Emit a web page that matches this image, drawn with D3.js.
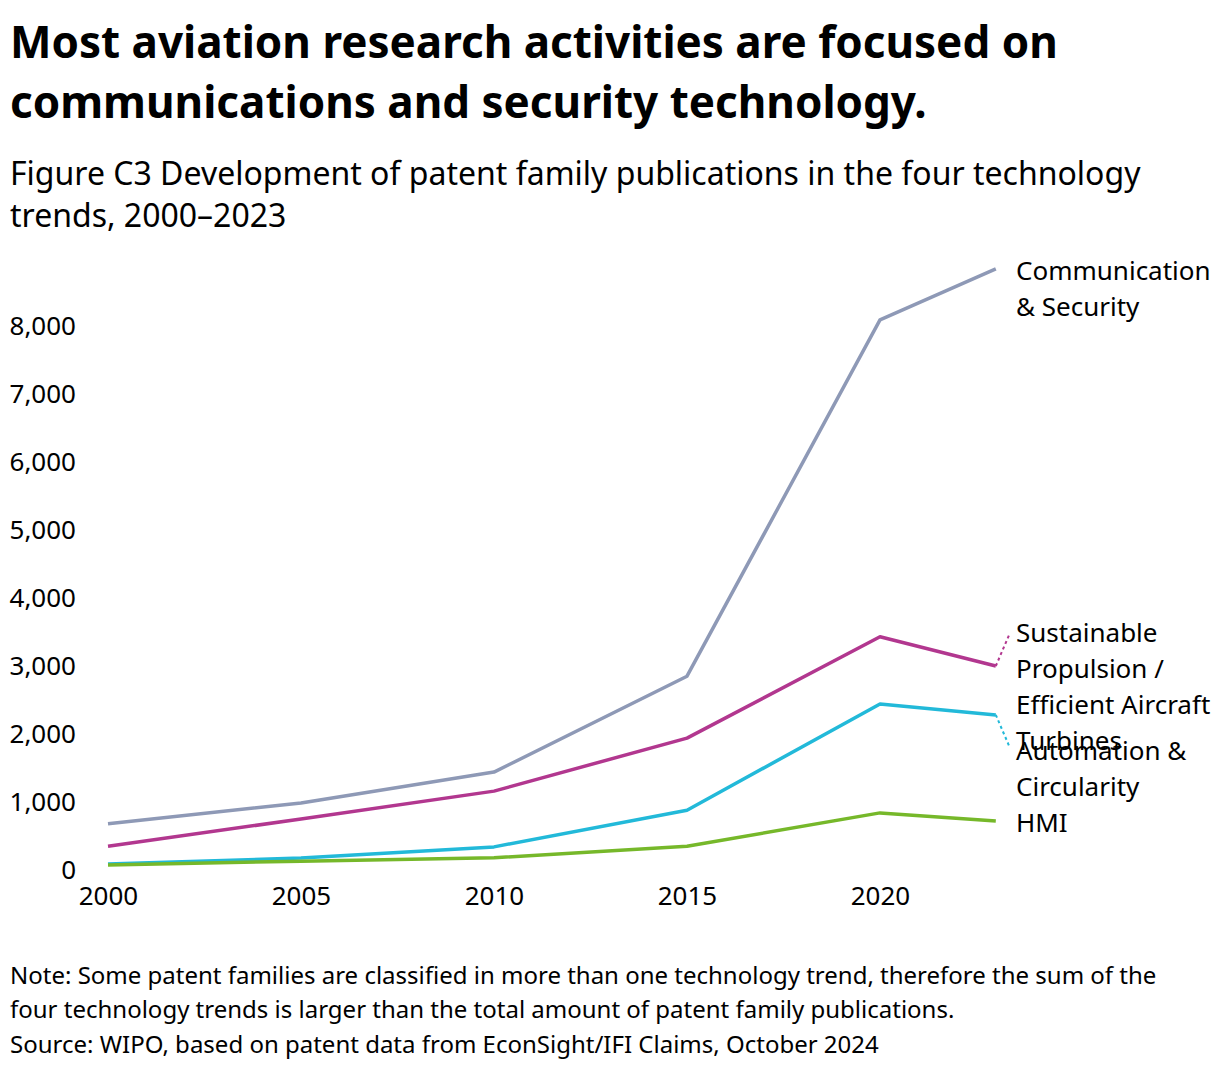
<!DOCTYPE html>
<html>
<head>
<meta charset="utf-8">
<script src="https://d3js.org/d3.v7.min.js"></script>
<style>
  body { margin: 0; background: #fff; font-family: "Noto Sans", sans-serif; }
</style>
</head>
<body>
<div id="chart"></div>
<script>
// data
var years = [2000, 2005, 2010, 2015, 2020, 2023];
var commSecurity = [680, 985, 1440, 2850, 8090, 8840];
var sustainable  = [350, 750, 1160, 1940, 3430, 3000];
var automation   = [90, 175, 340, 880, 2440, 2280];
var hmi          = [75, 130, 180, 350, 840, 720];
var seriesNames = ["Communication\n& Security", "Sustainable\nPropulsion /\nEfficient Aircraft\nTurbines", "Automation &\nCircularity", "HMI"];
var xTicks = [2000, 2005, 2010, 2015, 2020];
var yTicks = [0, 1000, 2000, 3000, 4000, 5000, 6000, 7000, 8000];

var colors = ["#8e99b6", "#b2378f", "#22b9d9", "#76b82a"];
var allSeries = [commSecurity, sustainable, automation, hmi];

var W = 1220, H = 1070;
var svg = d3.select("#chart").append("svg")
    .attr("width", W).attr("height", H)
    .style("font-family", "'Noto Sans', sans-serif");

// title + subtitle
var title = svg.append("text").attr("x", 10).attr("font-size", 44).attr("font-weight", "bold").attr("fill", "#000");
title.append("tspan").attr("x", 10).attr("y", 58).text("Most aviation research activities are focused on");
title.append("tspan").attr("x", 10).attr("y", 118).text("communications and security technology.");

var sub = svg.append("text").attr("font-size", 32).attr("fill", "#000");
sub.append("tspan").attr("x", 10).attr("y", 185).text("Figure C3 Development of patent family publications in the four technology");
sub.append("tspan").attr("x", 10).attr("y", 227).text("trends, 2000\u20132023");

// scales
var x = d3.scaleLinear().domain([2000, 2020]).range([108, 880]);
var y = d3.scaleLinear().domain([0, 8000]).range([870, 326]);

// y axis (labels only)
var yAxis = svg.append("g").attr("transform", "translate(76,0)")
    .call(d3.axisLeft(y).tickValues(yTicks).tickSize(0).tickPadding(0).tickFormat(d3.format(",")));
yAxis.select(".domain").remove();
yAxis.selectAll("text").attr("font-size", 26).attr("fill", "#000").style("font-family", "'Noto Sans', sans-serif");

// x axis (labels only)
var xAxis = svg.append("g").attr("transform", "translate(0,887)")
    .call(d3.axisBottom(x).tickValues(xTicks).tickSize(0).tickPadding(0).tickFormat(d3.format("d")));
xAxis.select(".domain").remove();
xAxis.selectAll("text").attr("font-size", 26).attr("fill", "#000").attr("dy", "0.71em").style("font-family", "'Noto Sans', sans-serif");

// lines
var line = d3.line().x(function(d, i) { return x(years[i]); }).y(function(d) { return y(d); });
svg.append("g").selectAll("path")
  .data(allSeries)
  .join("path")
    .attr("fill", "none")
    .attr("stroke", function(d, i) { return colors[i]; })
    .attr("stroke-width", 3.5)
    .attr("stroke-linejoin", "round")
    .attr("d", line);

// end labels
var lastX = x(years[years.length - 1]);
var labX = 1016;
var labelY = allSeries.map(function(s) { return y(s[s.length - 1]); });
labelY[0] = labelY[0] + 2;
labelY[1] = labelY[1] - 33;   // nudge off the neighbour
labelY[2] = labelY[2] + 36;
labelY[3] = labelY[3] + 2;

allSeries.forEach(function(s, i) {
  var endY = y(s[s.length - 1]);
  if (Math.abs(labelY[i] - endY) > 5) {
    svg.append("line")
      .attr("x1", lastX).attr("y1", endY)
      .attr("x2", labX - 6).attr("y2", labelY[i] - (labelY[i] > endY ? 3 : 0))
      .attr("stroke", colors[i]).attr("stroke-width", 2)
      .attr("stroke-dasharray", "3,3");
  }
  var t = svg.append("text").attr("font-size", 26).attr("fill", "#000");
  seriesNames[i].split("\n").forEach(function(str, k) {
    t.append("tspan").attr("x", labX).attr("y", labelY[i] + k * 36).attr("dy", "0.35em").text(str);
  });
});

// notes
var note = svg.append("text").attr("font-size", 24).attr("fill", "#000");
note.append("tspan").attr("x", 10).attr("y", 984).text("Note: Some patent families are classified in more than one technology trend, therefore the sum of the");
note.append("tspan").attr("x", 10).attr("y", 1018).text("four technology trends is larger than the total amount of patent family publications.");
note.append("tspan").attr("x", 10).attr("y", 1053).text("Source: WIPO, based on patent data from EconSight/IFI Claims, October 2024");
</script>
</body>
</html>
